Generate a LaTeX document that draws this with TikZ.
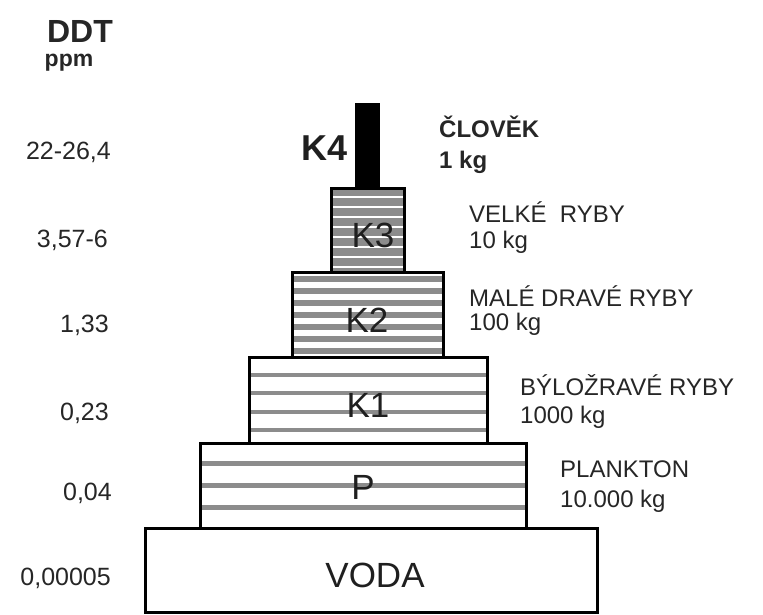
\documentclass[tikz,border=0pt]{standalone}
\usepackage{fontspec}
\setmainfont{Liberation Sans}
\begin{document}
\begin{tikzpicture}[x=1pt,y=-1pt,
        tier/.style={draw=black,line width=3pt},
        stripe/.style={black!45,line width=#1},
        lvl/.style={inner sep=0pt,text=black!88,font=\fontsize{35}{40}\selectfont},
        ppmval/.style={inner sep=0pt,anchor=east,text=black!85,font=\fontsize{25}{30}\selectfont},
        what/.style={inner sep=0pt,anchor=west,text=black!85,font=\fontsize{24}{28}\selectfont}]
        \useasboundingbox (0,0) rectangle (763,615);
        % voda
        \draw[tier,fill=white] (145,528) rectangle (597,612);
        % plankton
        \foreach \y in {463,485,507} \draw[stripe=5pt] (200,\y) -- (526,\y);
        \draw[tier] (200,443) rectangle (526,528);
        % K1
        \foreach \y in {375,393,412,430} \draw[stripe=4.5pt] (249,\y) -- (487,\y);
        \draw[tier] (249,357) rectangle (487,443);
        % K2
        \foreach \y in {279,291,...,351} \draw[stripe=5.5pt] (292,\y) -- (443,\y);
        \draw[tier] (292,272) rectangle (443,357);
        % K3
        \fill[black!45] (331,188) rectangle (404,272);
        \foreach \y in {197,207,...,267} \draw[white,line width=2.5pt] (331,\y) -- (404,\y);
        \draw[tier] (331,188) rectangle (404,272);
        % K4
        \fill[black] (355,103) rectangle (380,188);
        \node[lvl] (voda) at (375,575) {VODA};
        \node[lvl] (p) at (363,487) {P};
        \node[lvl] (k1) at (368,405) {K1};
        \node[lvl] (k2) at (367,320) {K2};
        \node[lvl] (k3) at (373,235) {K3};
        \node[lvl,font=\bfseries\fontsize{36}{40}\selectfont] (k4) at (325,148) {K4};
        \node[inner sep=0pt,text=black!85,font=\bfseries\fontsize{32}{36}\selectfont] (ddt) at (80,31) {DDT};
        \node[inner sep=0pt,text=black!85,font=\bfseries\fontsize{23}{28}\selectfont] (ppm) at (69,63) {ppm};
        \node[ppmval] (c4) at (111,152) {22-26,4};
        \node[ppmval] (c3) at (108,240) {3,57-6};
        \node[ppmval] (c2) at (109,325) {1,33};
        \node[ppmval] (c1) at (109,413) {0,23};
        \node[ppmval] (cp) at (112,493) {0,04};
        \node[ppmval] (cv) at (111,578) {0,00005};
        \node[what,font=\bfseries\fontsize{24}{28}\selectfont] (clovek) at (439,127) {ČLOVĚK};
        \node[what,font=\bfseries\fontsize{24}{28}\selectfont] (m4) at (439,162) {1 kg};
        \node[what] (velke) at (469,212) {VELKÉ\ \ RYBY};
        \node[what] (m3) at (469,242) {10 kg};
        \node[what] (male) at (469,296) {MALÉ DRAVÉ RYBY};
        \node[what] (m2) at (469,324) {100 kg};
        \node[what] (bylo) at (520,385) {BÝLOŽRAVÉ RYBY};
        \node[what] (m1) at (520,417) {1000 kg};
        \node[what] (plankton) at (560,469) {PLANKTON};
        \node[what] (mp) at (560,501) {10.000 kg};
\end{tikzpicture}
\end{document}
